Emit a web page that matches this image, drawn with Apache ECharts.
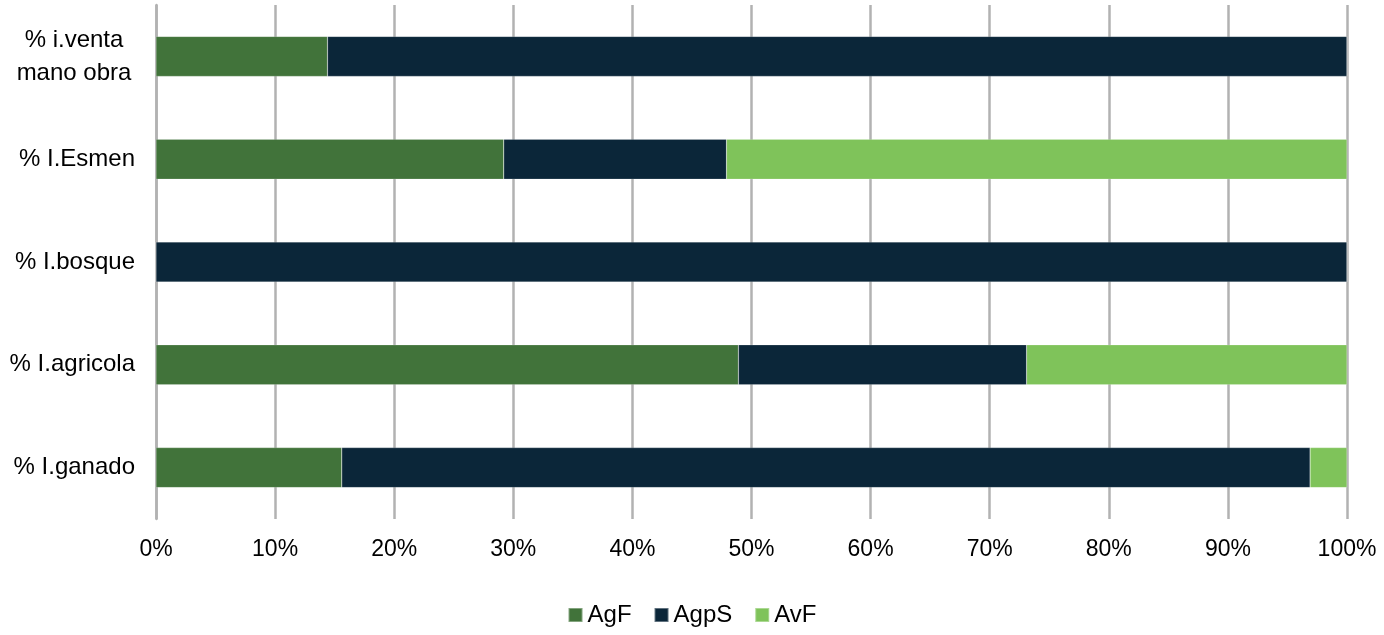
<!DOCTYPE html>
<html>
<head>
<meta charset="utf-8">
<script src="https://cdn.jsdelivr.net/npm/echarts@6/dist/echarts.min.js"></script>
<style>
html,body{margin:0;padding:0;background:#fff;}
#chart{width:1384px;height:635px;}
</style>
</head>
<body>
<div id="chart"></div>
<script>
const categories = ['% I.ganado', '% I.agricola', '% I.bosque', '% I.Esmen', '% i.venta\nmano obra'];
const agF  = [15.6, 48.9, 0, 29.2, 14.4];
const agpS = [81.3, 24.2, 100, 18.7, 85.6];
const avF  = [3.1, 26.9, 0, 52.1, 0];
const xTicks = [0, 10, 20, 30, 40, 50, 60, 70, 80, 90, 100];

const chart = echarts.init(document.getElementById('chart'));
const font = 'Liberation Sans, Arial, sans-serif';
const mk = (name, data, color) => ({
  name, type: 'bar', stack: 'total', data, barWidth: 40,
  itemStyle: { color, borderColor: 'rgba(255,255,255,0.35)', borderWidth: 0.5 },
  emphasis: { disabled: true }
});
chart.setOption({
  animation: false,
  textStyle: { fontFamily: font },
  grid: { left: 156, right: 37, top: 5, bottom: 116, containLabel: false },
  xAxis: {
    type: 'value', min: 0, max: 100, interval: 10,
    axisLine: { show: false },
    axisTick: { show: false },
    splitLine: { show: true, lineStyle: { color: '#B2B2B2', width: 2.5 } },
    axisLabel: { formatter: v => xTicks.includes(v) ? v + '%' : '', color: '#000', fontSize: 23, margin: 19, fontFamily: font }
  },
  yAxis: {
    type: 'category', data: categories,
    axisLine: { show: true, lineStyle: { color: '#B2B2B2', width: 2.5 } },
    axisTick: { show: false },
    axisLabel: {
      color: '#000', fontSize: 24, lineHeight: 33, fontFamily: font,
      formatter: v => v.indexOf('\n') >= 0 ? '{c|' + v.split('\n').join('}\n{c|') + '}' : '{r|' + v + '}',
      rich: {
        c: { fontSize: 24, lineHeight: 33, width: 122, align: 'center', fontFamily: font, color: '#000' },
        r: { fontSize: 24, fontFamily: font, color: '#000' }
      },
      align: 'right', margin: 21
    }
  },
  legend: {
    bottom: 3, left: 'center', itemWidth: 14, itemHeight: 14, itemGap: 22,
    icon: 'rect',
    textStyle: { color: '#000', fontSize: 24, fontFamily: font },
    data: ['AgF', 'AgpS', 'AvF']
  },
  series: [
    mk('AgF', agF, '#41733A'),
    mk('AgpS', agpS, '#0B2639'),
    mk('AvF', avF, '#7FC35A')
  ]
});
</script>
</body>
</html>
